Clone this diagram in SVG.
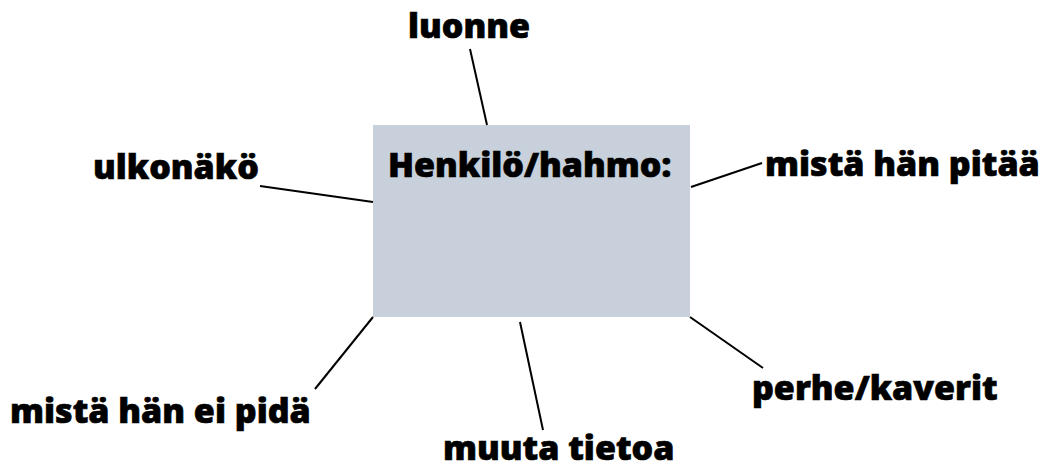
<svg xmlns="http://www.w3.org/2000/svg" width="1049" height="469" viewBox="0 0 1049 469">
<style>
text{font-family:"Open Sans","Noto Sans",sans-serif;font-weight:800;font-size:34px;fill:#000;stroke:#000;stroke-width:0.7px}
.c line{stroke:#000;stroke-width:2}
</style>
<rect width="1049" height="469" fill="#fff"/>
<g id="center"><rect x="373" y="125" width="317" height="192" fill="#C7D0DB"/><text x="388" y="177">Henkilö/hahmo:</text></g>
<g class="c" id="connectors">
<line x1="470" y1="49" x2="487" y2="125"/>
<line x1="691" y1="187" x2="762" y2="163"/>
<line x1="260" y1="186" x2="373" y2="202"/>
<line x1="373" y1="317" x2="315" y2="389"/>
<line x1="520" y1="322" x2="543" y2="430"/>
<line x1="690" y1="317" x2="763" y2="368"/>
</g>
<g id="luonne"><text x="408" y="38">luonne</text></g>
<g id="pitaa"><text x="765" y="176">mistä hän pitää</text></g>
<g id="ulkonako"><text x="93" y="179">ulkonäkö</text></g>
<g id="eipida"><text x="10" y="423">mistä hän ei pidä</text></g>
<g id="muuta"><text x="443" y="460">muuta tietoa</text></g>
<g id="perhe"><text x="752" y="400">perhe/kaverit</text></g>
</svg>
